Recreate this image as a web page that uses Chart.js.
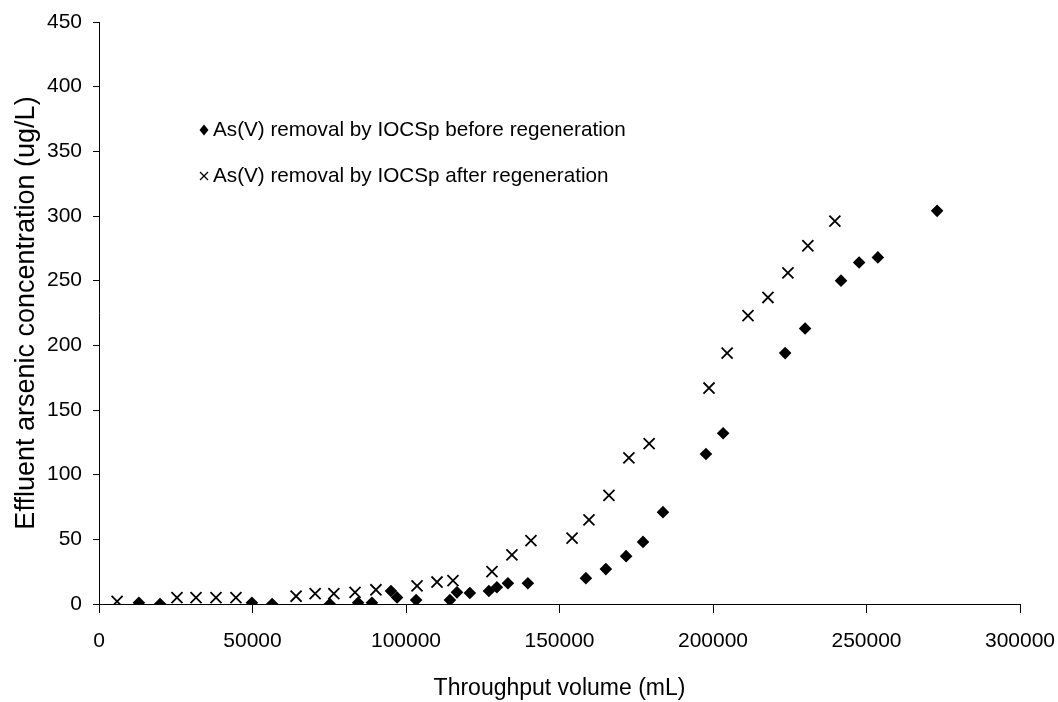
<!DOCTYPE html>
<html>
<head>
<meta charset="utf-8">
<script src="https://cdn.jsdelivr.net/npm/chart.js@4.4.1/dist/chart.umd.min.js"></script>
<style>
  html, body { margin: 0; padding: 0; background: #fff; }
  #wrap { width: 1058px; height: 702px; position: relative; }
</style>
</head>
<body>
<div id="wrap"><canvas id="c" width="1058" height="702"></canvas></div>
<script>
// Throughput volume (mL) and effluent As concentration (ug/L)
const beforeX = [13000, 19900, 49800, 56400, 75200, 84400, 88900, 95100, 97100, 103300,
  114300, 116600, 120800, 127000, 129600, 133200, 139700, 158600, 165100, 171700,
  177200, 183700, 197700, 203300, 223500, 230000, 241700, 247600, 253700, 273000];
const beforeY = [1, 0, 1, 0, 0, 1, 1, 10, 5, 3,
  3, 9, 8.5, 10, 13, 16, 16, 20, 27, 37,
  48, 71, 116, 132, 194, 213, 250, 264, 268, 304];

const afterX = [5900, 25400, 31600, 38100, 44600, 64200, 70400, 76500, 83400, 90200,
  103600, 110100, 115300, 128000, 134500, 140700, 154100, 159600, 166100, 172600,
  179200, 198700, 204600, 211400, 217900, 224400, 230900, 239700];
const afterY = [2, 5, 5, 5, 5, 6, 8, 8, 9, 11,
  14, 17, 18, 25, 38, 49, 51, 65, 84, 113,
  124, 167, 194, 223, 237, 256, 277, 296];

const xTicks = [0, 50000, 100000, 150000, 200000, 250000, 300000];
const yTicks = [0, 50, 100, 150, 200, 250, 300, 350, 400, 450];

const seriesNames = [
  'As(V) removal by IOCSp before regeneration',
  'As(V) removal by IOCSp after regeneration'
];

const FONT = '"Liberation Sans", Arial, Helvetica, sans-serif';

const toPoints = (xs, ys) => xs.map((x, i) => ({ x: x, y: ys[i] }));

// Legend drawn inside the plot area, upper left
const insideLegend = {
  id: 'insideLegend',
  afterDraw(chart) {
    const ctx = chart.ctx;
    ctx.save();
    ctx.fillStyle = '#000';
    ctx.strokeStyle = '#000';
    ctx.font = '20.7px ' + FONT;
    ctx.textBaseline = 'middle';
    const mx = 204, tx = 213;
    const rows = [130, 176];
    // diamond
    ctx.beginPath();
    ctx.moveTo(mx, rows[0] - 5.5);
    ctx.lineTo(mx + 4.5, rows[0]);
    ctx.lineTo(mx, rows[0] + 5.5);
    ctx.lineTo(mx - 4.5, rows[0]);
    ctx.closePath();
    ctx.fill();
    // cross
    ctx.lineWidth = 1.3;
    ctx.beginPath();
    ctx.moveTo(mx - 4, rows[1] - 4);
    ctx.lineTo(mx + 4, rows[1] + 4);
    ctx.moveTo(mx + 4, rows[1] - 4);
    ctx.lineTo(mx - 4, rows[1] + 4);
    ctx.stroke();
    ctx.fillText(seriesNames[0], tx, rows[0]);
    ctx.fillText(seriesNames[1], tx, rows[1]);
    ctx.restore();
  }
};

new Chart(document.getElementById('c'), {
  type: 'scatter',
  data: {
    datasets: [
      {
        label: seriesNames[0],
        data: toPoints(beforeX, beforeY),
        pointStyle: 'rectRot',
        pointRadius: 6.3,
        pointHoverRadius: 6.3,
        backgroundColor: '#000',
        borderColor: '#000',
        borderWidth: 0
      },
      {
        label: seriesNames[1],
        data: toPoints(afterX, afterY),
        pointStyle: 'crossRot',
        pointRadius: 7.8,
        pointHoverRadius: 7.8,
        backgroundColor: '#000',
        borderColor: '#000',
        borderWidth: 1.8
      }
    ]
  },
  options: {
    responsive: false,
    animation: false,
    events: [],
    layout: { padding: { top: 22, right: 38, left: 0, bottom: 0 } },
    plugins: {
      legend: { display: false },
      tooltip: { enabled: false }
    },
    scales: {
      x: {
        type: 'linear',
        min: 0,
        max: 300000,
        afterBuildTicks(scale) { scale.ticks = xTicks.map(v => ({ value: v })); },
        afterFit(scale) {
          scale.height = 98;
          scale.paddingLeft = 0;
          scale.paddingRight = 0;
        },
        border: { display: true, color: '#000', width: 1 },
        grid: { display: true, drawOnChartArea: false, drawTicks: true, tickLength: 9, color: '#000' },
        ticks: {
          color: '#000',
          padding: 16,
          maxRotation: 0,
          autoSkip: false,
          font: { family: FONT, size: 21 },
          callback: v => String(v)
        },
        title: {
          display: true,
          text: 'Throughput volume (mL)',
          color: '#000',
          font: { family: FONT, size: 23 },
          padding: { top: 0, bottom: 0 }
        }
      },
      y: {
        type: 'linear',
        min: 0,
        max: 450,
        afterBuildTicks(scale) { scale.ticks = yTicks.map(v => ({ value: v })); },
        afterFit(scale) {
          scale.width = 99;
          scale.paddingTop = 0;
          scale.paddingBottom = 0;
        },
        border: { display: true, color: '#000', width: 1 },
        grid: { display: true, drawOnChartArea: false, drawTicks: true, tickLength: 6, color: '#000' },
        ticks: {
          color: '#000',
          padding: 11,
          autoSkip: false,
          font: { family: FONT, size: 21 },
          callback: v => String(v)
        },
        title: {
          display: true,
          text: 'Effluent arsenic concentration (ug/L)',
          color: '#000',
          font: { family: FONT, size: 27 },
          padding: { top: 10, bottom: 0 }
        }
      }
    }
  },
  plugins: [insideLegend]
});
</script>
</body>
</html>
